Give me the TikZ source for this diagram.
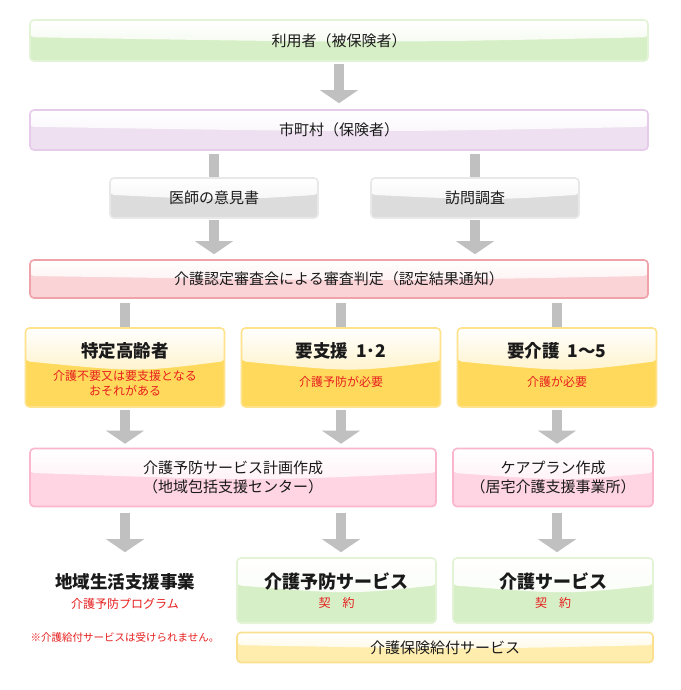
\documentclass[tikz,border=0pt]{standalone}
\usepackage{fontspec}
\setmainfont{Noto Sans CJK JP}
\usetikzlibrary{arrows.meta, calc, positioning}

\definecolor{grLine}{HTML}{E2F3D6}
\definecolor{grFill}{HTML}{D7EFC6}
\definecolor{puLine}{HTML}{E6CBEA}
\definecolor{puFill}{HTML}{EEDFF1}
\definecolor{gyLine}{HTML}{E8E8E8}
\definecolor{gyFill}{HTML}{DCDCDC}
\definecolor{rdLine}{HTML}{EFA2A9}
\definecolor{rdFill}{HTML}{FAD3D7}
\definecolor{yeLine}{HTML}{FFE38C}
\definecolor{yeFill}{HTML}{FFD95C}
\definecolor{yeTop}{HTML}{FFF3CB}
\definecolor{pkLine}{HTML}{F9B6CD}
\definecolor{pkFill}{HTML}{FFD4E3}
\definecolor{baLine}{HTML}{FADF8E}
\definecolor{baFill}{HTML}{FFEDAE}
\definecolor{arGray}{HTML}{C0C0C0}
\definecolor{txRed}{HTML}{E61E1E}
\definecolor{txDark}{HTML}{1A1A1A}

\begin{document}
\begin{tikzpicture}[x=1pt, y=-1pt,
  gloss/.style={path picture={
    \coordinate (gnw) at (path picture bounding box.north west);
    \coordinate (gse) at (path picture bounding box.south east);
    \shade[top color=white, bottom color=#1]
      (gnw) -- ($(gnw)!.42!(gnw|-gse)$) .. controls ($(gnw)!.56!(gse)$) .. ($(gse|-gnw)!.42!(gse)$)
      -- (gse|-gnw) -- cycle;}},
  box/.style n args={3}{draw=#1, fill=#2, gloss=#3, line width=1.6pt, rounded corners=4pt,
    inner sep=0pt, align=center, text=txDark, font=\fontsize{15}{19}\selectfont},
  ttl/.style={font=\bfseries\fontsize{17.5}{20}\selectfont, text=txDark, inner sep=0pt},
  sub/.style={font=\fontsize{12}{15}\selectfont, text=txRed, align=center, inner sep=0pt},
  arr/.style={draw=arGray, line width=10pt, -{Triangle[width=38pt, length=13pt, line width=0pt]}},
  stem/.style={draw=arGray, line width=10pt}]

\path[fill=white, use as bounding box] (0,0) rectangle (680,690);

% top part
\node[box={grLine}{grFill}{grFill!25}, minimum width=618, minimum height=41] (user) at (339,40.5) {利用者（被保険者）};
\node[box={puLine}{puFill}{puFill!25}, minimum width=618, minimum height=40] (city) at (339,130) {市町村（保険者）};
\node[box={gyLine}{gyFill}{gyFill!25}, minimum width=208, minimum height=40] (doc) at (214,198) {医師の意見書};
\node[box={gyLine}{gyFill}{gyFill!25}, minimum width=208, minimum height=40] (visit) at (475,198) {訪問調査};
\node[box={rdLine}{rdFill}{rdFill!30}, minimum width=618, minimum height=38] (board) at (339,279) {介護認定審査会による審査判定（認定結果通知）};

% levels
\node[box={yeLine}{yeFill}{yeTop}, minimum width=199, minimum height=79] (tok) at (125,367.5) {};
\node[box={yeLine}{yeFill}{yeTop}, minimum width=199, minimum height=79] (shien) at (341,367.5) {};
\node[box={yeLine}{yeFill}{yeTop}, minimum width=199, minimum height=79] (kaigo) at (557,367.5) {};
\node[ttl] (tokT) at ([yshift=-24pt]tok.north) {特定高齢者};
\node[ttl] (shienT) at ([yshift=-24pt]shien.north) {要支援\hspace{0.45em}1･2};
\node[ttl] (kaigoT) at ([yshift=-24pt]kaigo.north) {要介護\hspace{0.45em}1～5};
\node[sub] (tokS) at ([yshift=-56pt]tok.north) {介護不要又は要支援となる\\おそれがある};
\node[sub] (shienS) at ([yshift=-55pt]shien.north) {介護予防が必要};
\node[sub] (kaigoS) at ([yshift=-55pt]kaigo.north) {介護が必要};

% plans
\node[box={pkLine}{pkFill}{pkFill!30}, minimum width=406, minimum height=58] (planA) at (233,477.5) {介護予防サービス計画作成\\（地域包括支援センター）};
\node[box={pkLine}{pkFill}{pkFill!30}, minimum width=200, minimum height=58] (planB) at (553,477.5) {ケアプラン作成\\（居宅介護支援事業所）};

% services
\node[ttl] (chiiki) at (125,582) {地域生活支援事業};
\node[sub] (chiikiS) at (125,604) {介護予防プログラム};
\node[sub, font=\fontsize{10.5}{13}\selectfont] (note) at (125,637) {※介護給付サービスは受けられません。};
\node[box={grLine}{grFill}{grFill!15}, minimum width=199, minimum height=65] (yobo) at (336.5,590.5) {};
\node[box={grLine}{grFill}{grFill!15}, minimum width=200, minimum height=65] (kserv) at (553,590.5) {};
\node[ttl, font=\bfseries\fontsize{18}{20}\selectfont] (yoboT) at ([yshift=-24pt]yobo.north) {介護予防サービス};
\node[ttl, font=\bfseries\fontsize{18}{20}\selectfont] (kservT) at ([yshift=-24pt]kserv.north) {介護サービス};
\node[sub] (yoboS) at ([yshift=-46pt]yobo.north) {契　約};
\node[sub] (kservS) at ([yshift=-46pt]kserv.north) {契　約};
\node[box={baLine}{baFill}{baFill!30}, minimum width=416, minimum height=30] (bar) at (445,647.5) {介護保険給付サービス};

% connectors
\draw[arr] ([yshift=-2pt]user.south) -- ([yshift=6pt]city.north);
\draw[stem] ([yshift=-3pt]city.south -| doc) -- (doc.north);
\draw[stem] ([yshift=-3pt]city.south -| visit) -- (visit.north);
\draw[arr] ([yshift=-1pt]doc.south) -- ([yshift=5pt]board.north -| doc);
\draw[arr] ([yshift=-1pt]visit.south) -- ([yshift=5pt]board.north -| visit);
\draw[stem] ([yshift=-4pt]board.south -| tok) -- (tok.north);
\draw[stem] ([yshift=-4pt]board.south -| shien) -- (shien.north);
\draw[stem] ([yshift=-4pt]board.south -| kaigo) -- (kaigo.north);
\draw[arr] ([yshift=-2pt]tok.south) -- ([yshift=4pt]planA.north -| tok);
\draw[arr] ([yshift=-2pt]shien.south) -- ([yshift=4pt]planA.north -| shien);
\draw[arr] ([yshift=-2pt]kaigo.south) -- ([yshift=4pt]planB.north -| kaigo);
\draw[arr] ([yshift=-6pt]planA.south -| chiiki) -- ([yshift=5pt]yobo.north -| chiiki);
\draw[arr] ([yshift=-6pt]planA.south -| shien) -- ([yshift=5pt]yobo.north -| shien);
\draw[arr] ([yshift=-6pt]planB.south -| kaigo) -- ([yshift=5pt]kserv.north -| kaigo);
\end{tikzpicture}
\end{document}
